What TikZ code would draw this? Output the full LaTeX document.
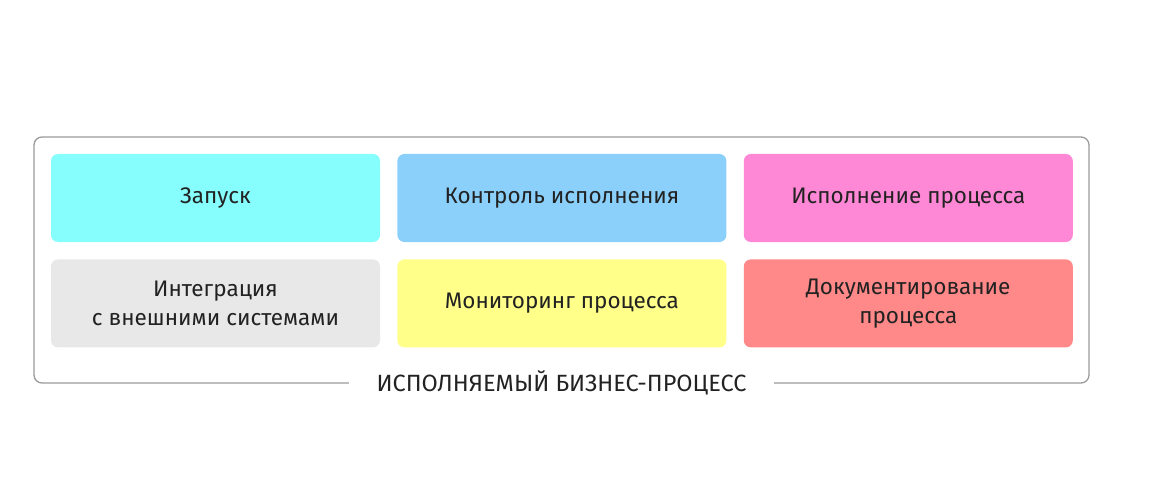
\documentclass[tikz,border=0pt]{standalone}
\usepackage{fontspec}
\setmainfont{Fira Sans}
\usetikzlibrary{positioning}
\definecolor{cyanbox}{HTML}{86FEFE}
\definecolor{bluebox}{HTML}{8AD0FA}
\definecolor{pinkbox}{HTML}{FF88D6}
\definecolor{graybox}{HTML}{E8E8E8}
\definecolor{yellowbox}{HTML}{FFFF8A}
\definecolor{redbox}{HTML}{FF8888}
\definecolor{textgray}{HTML}{222222}
\definecolor{framegray}{HTML}{9A9A9A}
\tikzset{
    task/.style={rounded corners=7pt, minimum width=329pt, minimum height=88pt,
        inner sep=0pt, align=center, text=textgray,
        font=\fontsize{22.5}{29}\selectfont},
    frame/.style={draw=framegray, line width=1.3pt, rounded corners=8pt},
}
\begin{document}
\begin{tikzpicture}[x=1pt, y=-1pt, node distance=17pt]
    \useasboundingbox (0,0) rectangle (1155,486);
    \draw[frame] (34,137) rectangle (1089,383);

    %first row
    \node[task, fill=cyanbox] (start) at (215.5,198) {Запуск};
    \node[task, fill=bluebox, right=of start] (control) {Контроль исполнения};
    \node[task, fill=pinkbox, right=of control] (exec) {Исполнение процесса};
    %second row
    \node[task, fill=graybox, below=of start] (integr) {Интеграция\\с внешними системами};
    \node[task, fill=yellowbox, below=of control] (monitor) {Мониторинг процесса};
    \node[task, fill=redbox, below=of exec] (docs) {Документирование\\процесса};

    \node[fill=white, inner xsep=28pt, inner ysep=4pt, text=textgray,
        font=\fontsize{23.5}{26}\selectfont] (title) at (561.5,383) {ИСПОЛНЯЕМЫЙ БИЗНЕС-ПРОЦЕСС};
\end{tikzpicture}
\end{document}
